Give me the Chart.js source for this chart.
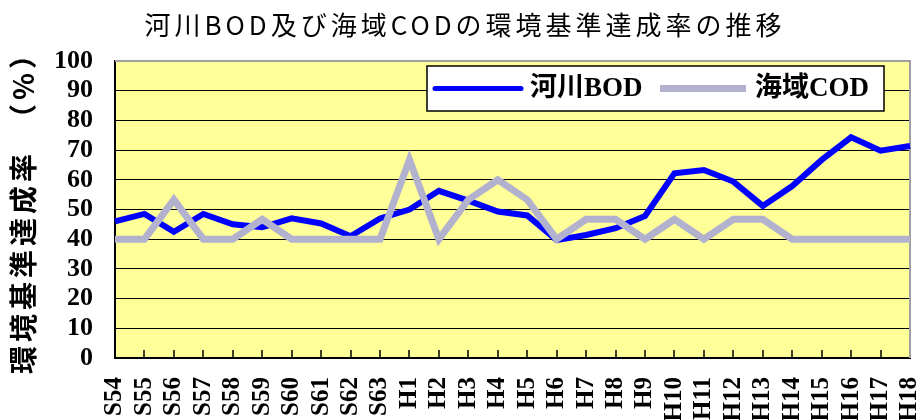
<!DOCTYPE html>
<html>
<head>
<meta charset="utf-8">
<script src="https://cdn.jsdelivr.net/npm/chart.js@4"></script>
<style>
    html, body { margin: 0; padding: 0; background: #ffffff; }
    #wrap { width: 917px; height: 420px; }
</style>
</head>
<body>
<div id="wrap"><canvas id="rateChart" width="917" height="420"></canvas></div>
<script>
// Chart data
const chartTitle = '河川BOD及び海域CODの環境基準達成率の推移';
const yTitle = '環境基準達成率　（%）';
const years = ['S54', 'S55', 'S56', 'S57', 'S58', 'S59', 'S60', 'S61', 'S62', 'S63',
    'H1', 'H2', 'H3', 'H4', 'H5', 'H6', 'H7', 'H8', 'H9', 'H10',
    'H11', 'H12', 'H13', 'H14', 'H15', 'H16', 'H17', 'H18'];
const riverBOD = [46, 48.5, 42.5, 48.5, 45, 44, 47, 45.3, 41, 47,
    50, 56.3, 53, 49.3, 48, 39.7, 41.4, 43.7, 47.8, 62.2,
    63.3, 59.4, 51.2, 57.9, 66.7, 74.3, 69.8, 71.4];
const seaCOD = [40, 40, 53.3, 40, 40, 46.7, 40, 40, 40, 40,
    66.7, 40, 53.3, 60, 53.3, 40, 46.7, 46.7, 40, 46.7,
    40, 46.7, 46.7, 40, 40, 40, 40, 40];
const seriesNames = ['河川BOD', '海域COD'];
const yTicks = [0, 10, 20, 30, 40, 50, 60, 70, 80, 90, 100];

const colors = {
    bod: '#0000ff',
    cod: '#b2b2cf',
    plot: '#ffff99',
    frame: '#a0a0a0',
    grid: '#000000'
};

// plot background, frame, inner ticks, title and legend
const decorPlugin = {
    id: 'decor',
    beforeDraw(chart) {
        const { ctx, chartArea: a } = chart;
        ctx.save();
        ctx.fillStyle = colors.plot;
        ctx.fillRect(a.left, a.top, a.right - a.left, a.bottom - a.top);
        ctx.restore();
    },
    beforeDatasetsDraw(chart) {
        const { ctx, chartArea: a } = chart;
        const xs = chart.scales.x;
        ctx.save();
        // gray frame on top and right
        ctx.strokeStyle = colors.frame;
        ctx.lineWidth = 2;
        ctx.beginPath();
        ctx.moveTo(a.left, a.top);
        ctx.lineTo(a.right, a.top);
        ctx.lineTo(a.right, a.bottom);
        ctx.stroke();
        // tick marks pointing into the plot
        ctx.strokeStyle = '#000000';
        ctx.lineWidth = 1.5;
        ctx.beginPath();
        for (let i = 1; i < years.length - 1; i++) {
            const x = Math.round(xs.getPixelForTick(i));
            ctx.moveTo(x, a.bottom - 8);
            ctx.lineTo(x, a.bottom);
        }
        ctx.stroke();
        ctx.restore();
    },
    afterDraw(chart) {
        const { ctx, chartArea: a } = chart;
        ctx.save();
        // chart title
        ctx.fillStyle = '#000000';
        ctx.font = '26px "Noto Sans CJK JP", sans-serif';
        ctx.letterSpacing = '4px';
        ctx.textAlign = 'center';
        ctx.textBaseline = 'middle';
        ctx.fillText(chartTitle, 465, 25);

        // y axis title
        ctx.save();
        ctx.translate(23, (a.top + a.bottom) / 2 - 4);
        ctx.rotate(-Math.PI / 2);
        ctx.font = 'bold 28px "Noto Sans CJK JP", sans-serif';
        ctx.letterSpacing = '4px';
        ctx.fillText(yTitle, 0, 0);
        ctx.restore();

        // legend box
        ctx.letterSpacing = '0px';
        const bx = a.right - 483, by = a.top + 5, bw = 457, bh = 45;
        ctx.fillStyle = '#ffffff';
        ctx.fillRect(bx, by, bw, bh);
        ctx.strokeStyle = '#000000';
        ctx.lineWidth = 1.5;
        ctx.strokeRect(bx, by, bw, bh);
        const cy = by + bh / 2;
        const items = [
            { x: bx + 8, color: colors.bod, width: 5, name: seriesNames[0] },
            { x: bx + 233, color: colors.cod, width: 7, name: seriesNames[1] }
        ];
        ctx.font = 'bold 27px "Liberation Serif", "Noto Sans CJK JP", serif';
        ctx.textAlign = 'left';
        items.forEach(it => {
            ctx.strokeStyle = it.color;
            ctx.lineWidth = it.width;
            ctx.lineCap = it.color === colors.bod ? 'round' : 'butt';
            ctx.beginPath();
            ctx.moveTo(it.x, cy);
            ctx.lineTo(it.x + 86, cy);
            ctx.stroke();
            ctx.fillStyle = '#000000';
            ctx.fillText(it.name, it.x + 95, cy + 1);
        });
        ctx.restore();
    }
};

new Chart(document.getElementById('rateChart'), {
    type: 'line',
    data: {
        labels: years,
        datasets: [
            {
                label: seriesNames[0],
                data: riverBOD,
                borderColor: colors.bod,
                backgroundColor: colors.bod,
                borderWidth: 6,
                pointRadius: 0,
                tension: 0,
                order: 2
            },
            {
                label: seriesNames[1],
                data: seaCOD,
                borderColor: colors.cod,
                backgroundColor: colors.cod,
                borderWidth: 7,
                pointRadius: 0,
                tension: 0,
                order: 1
            }
        ]
    },
    options: {
        responsive: false,
        animation: false,
        layout: {
            padding: { top: 61, right: 7, left: 0, bottom: 0 }
        },
        plugins: {
            legend: { display: false },
            title: { display: false },
            tooltip: { enabled: false }
        },
        scales: {
            x: {
                offset: false,
                afterFit(scale) {
                    scale.height = 62;
                    scale.paddingLeft = 0;
                    scale.paddingRight = 0;
                },
                grid: {
                    display: true,
                    drawOnChartArea: false,
                    drawTicks: false
                },
                border: { color: '#000000', width: 2 },
                ticks: {
                    color: '#000000',
                    font: { family: '"Liberation Serif", serif', size: 25, weight: 'bold' },
                    minRotation: 90,
                    maxRotation: 90,
                    autoSkip: false,
                    padding: 19
                }
            },
            y: {
                min: 0,
                max: 100,
                afterFit(scale) {
                    scale.width = 115;
                },
                afterBuildTicks(scale) {
                    scale.ticks = yTicks.map(v => ({ value: v }));
                },
                grid: {
                    color: colors.grid,
                    lineWidth: 1,
                    drawTicks: false
                },
                border: { color: '#000000', width: 2 },
                ticks: {
                    color: '#000000',
                    font: { family: '"Liberation Serif", serif', size: 26, weight: 'bold' },
                    autoSkip: false,
                    padding: 22
                }
            }
        }
    },
    plugins: [decorPlugin]
});
</script>
</body>
</html>
